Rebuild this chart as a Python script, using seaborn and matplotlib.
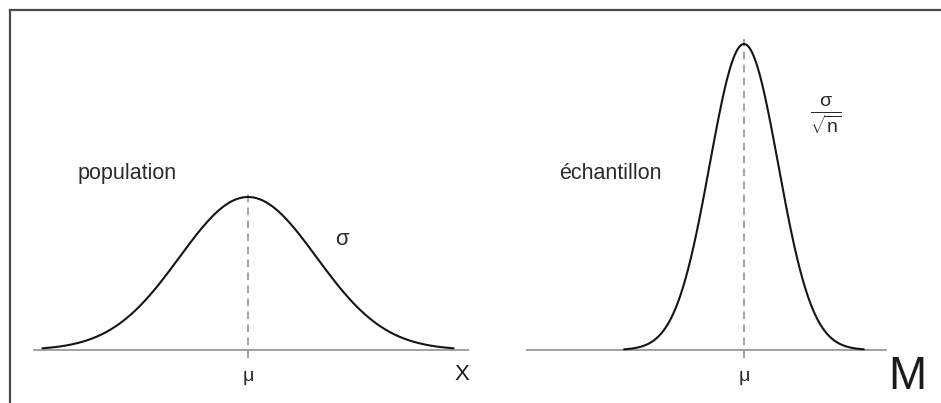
import numpy as np
import pandas as pd
import matplotlib
matplotlib.use("Agg")
import matplotlib.pyplot as plt
import seaborn as sns

# Distribution parameters
mu = 0.0          # common mean
sigma = 1.0       # population standard deviation
n = 4             # sample size for the sampling distribution of the mean
pop_span = 3.0    # population curve drawn over mu +/- pop_span * sigma
samp_span = 3.5   # sampling curve drawn over mu +/- samp_span * sigma/sqrt(n)

panel_names = ["population", "échantillon"]
axis_names = ["X", "M"]
spread_labels = ["σ", r"$\frac{\sigma}{\sqrt{n}}$"]
center_label = "μ"

sns.set_style("white")
plt.rcParams["font.family"] = ["Liberation Sans", "DejaVu Sans"]
plt.rcParams["mathtext.fontset"] = "custom"
plt.rcParams["mathtext.rm"] = "Liberation Sans"
plt.rcParams["mathtext.it"] = "Liberation Sans"
plt.rcParams["mathtext.bf"] = "Liberation Sans:bold"

W, H = 941, 403
fig = plt.figure(figsize=(W / 100, H / 100), dpi=100)

# outer frame (top and left edges)
frame = fig.add_axes([10 / W, 0, (W - 10) / W, (H - 10) / H], zorder=0)
frame.set_xticks([]); frame.set_yticks([])
for side in ["right", "bottom"]:
    frame.spines[side].set_visible(False)
for side in ["left", "top"]:
    frame.spines[side].set_color("#4a4a4a")
    frame.spines[side].set_linewidth(1.6)
frame.patch.set_alpha(0)

def normal_pdf(x, m, s):
    return np.exp(-0.5 * ((x - m) / s) ** 2) / (s * np.sqrt(2 * np.pi))

s_mean = sigma / np.sqrt(n)
x_pop = np.linspace(mu - pop_span * sigma, mu + pop_span * sigma, 400)
x_smp = np.linspace(mu - samp_span * s_mean, mu + samp_span * s_mean, 400)
curves = pd.concat([
    pd.DataFrame({"x": x_pop, "density": normal_pdf(x_pop, mu, sigma), "panel": panel_names[0]}),
    pd.DataFrame({"x": x_smp, "density": normal_pdf(x_smp, mu, s_mean), "panel": panel_names[1]}),
])

ylim = (-0.1382, 0.9126)
ax_left = fig.add_axes([0, 0, 496 / W, 1], zorder=1)
ax_left.set_xlim(-3.620, 3.620)
ax_right = fig.add_axes([496 / W, 0, (W - 496) / W, 1], zorder=1)
ax_right.set_xlim(-3.620, 2.876)

baselines = [(-3.14, 3.23), (-3.18, 2.09)]
label_pos = [(-2.482, 0.4615), (-2.701, 0.4615)]
spread_pos = [(1.197 + 0.175, 0.287), (1.197, 0.612)]
spread_size = [16, 20]
axis_pos = [(3.124, -0.064), (2.380, -0.070)]
axis_size = [16, 33]

for i, ax in enumerate([ax_left, ax_right]):
    ax.set_ylim(*ylim)
    ax.axis("off")
    sub = curves[curves["panel"] == panel_names[i]]
    peak = sub["density"].max()
    ax.hlines(0, *baselines[i], color="#9a9a9a", lw=1.3, zorder=1)
    ax.vlines(mu, -0.02, peak + 0.012, color="#8a8a8a", lw=1.1,
              linestyles=(0, (5, 3.5)), zorder=1)
    sns.lineplot(data=sub, x="x", y="density", ax=ax, color="#151515",
                 lw=1.5, zorder=2, legend=False)
    ax.text(*label_pos[i], panel_names[i], fontsize=15.5, color="#2a2a2a",
            ha="left", va="center")
    ax.text(*spread_pos[i], spread_labels[i], fontsize=spread_size[i], color="#2a2a2a",
            ha="center", va="center")
    ax.text(mu, -0.069, center_label, fontsize=14, color="#2a2a2a",
            ha="center", va="center")
    ax.text(*axis_pos[i], axis_names[i], fontsize=axis_size[i], color="#1a1a1a",
            ha="center", va="center")
    ax.set_xlabel(""); ax.set_ylabel("")

fig.savefig("out.png", dpi=100)
